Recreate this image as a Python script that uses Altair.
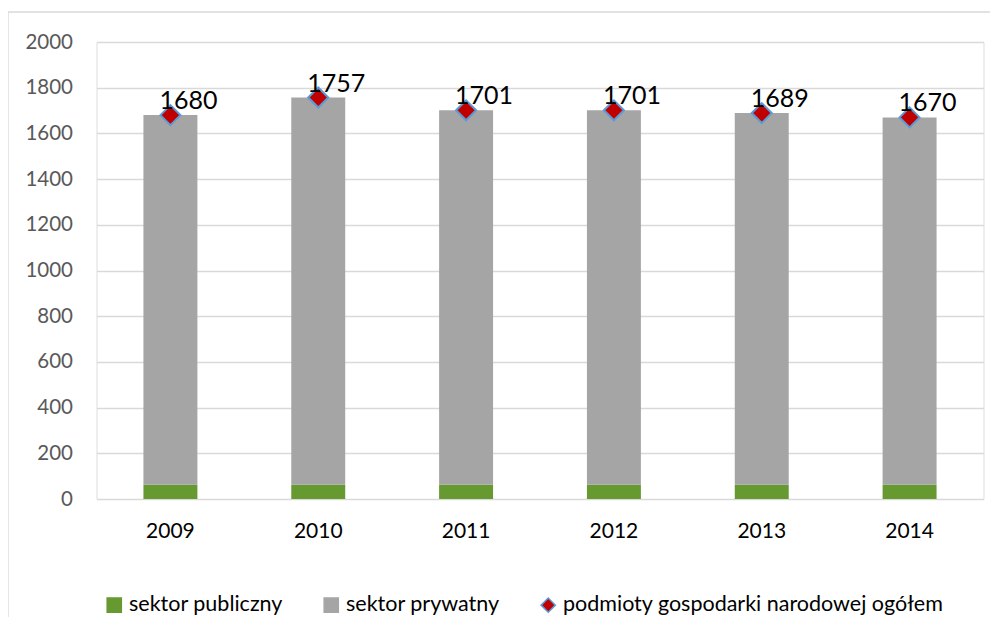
import altair as alt
import pandas as pd

years = ["2009", "2010", "2011", "2012", "2013", "2014"]
totals = [1680, 1757, 1701, 1701, 1689, 1670]
public = [62, 62, 62, 62, 62, 62]
private = [t - p for t, p in zip(totals, public)]

S_PUB = "sektor publiczny"
S_PRIV = "sektor prywatny"
S_TOT = "podmioty gospodarki narodowej ogółem"

rows = []
for y, p, q in zip(years, public, private):
    rows.append({"year": y, "series": S_PUB, "value": p, "order": 0})
    rows.append({"year": y, "series": S_PRIV, "value": q, "order": 1})
bars_df = pd.DataFrame(rows)
tot_df = pd.DataFrame({"year": years, "value": totals, "series": [S_TOT] * len(years)})

domain = [S_PUB, S_PRIV, S_TOT]
color_scale = alt.Scale(domain=domain, range=["#66992F", "#A5A5A5", "#C00000"])
stroke_scale = alt.Scale(domain=domain, range=["#66992F", "#A5A5A5", "#5B9BD5"])
shape_scale = alt.Scale(domain=domain, range=["square", "square", "diamond"])

legend = alt.Legend(
    title=None, orient="none", direction="horizontal", legendX=7, legendY=552,
    labelFont="Lato", labelFontSize=21.5, labelColor="#000000", symbolSize=200,
    symbolStrokeWidth=1.5, columnPadding=37, labelLimit=600, labelOffset=4,
    padding=0, symbolOffset=0,
)

x_enc = alt.X("year:N", sort=years, title=None,
              scale=alt.Scale(paddingInner=0.635, paddingOuter=0.3175),
              axis=alt.Axis(labelAngle=0, ticks=False, domain=False, labelFont="Lato",
                            labelFontSize=21, labelColor="#000000", labelPadding=21))
y_axis = alt.Axis(values=list(range(0, 2001, 200)), ticks=False, domain=False, format="d",
                  labelFont="Lato", labelFontSize=20.5, labelColor="#595959",
                  labelPadding=24, gridColor="#D9D9D9", gridWidth=1.3)

frame = alt.Chart(pd.DataFrame({"a": [0]})).mark_rect(
    fill=None, stroke="#D9D9D9", strokeWidth=1.3
).encode(x=alt.value(-88.5), x2=alt.value(940), y=alt.value(-30), y2=alt.value(620))

bars = alt.Chart(bars_df).mark_bar(strokeWidth=0).encode(
    x=x_enc,
    y=alt.Y("value:Q", stack="zero", title=None,
            scale=alt.Scale(domain=[0, 2000], nice=False), axis=y_axis),
    color=alt.Color("series:N", scale=color_scale, legend=legend),
    stroke=alt.Stroke("series:N", scale=stroke_scale, legend=legend),
    shape=alt.Shape("series:N", scale=shape_scale, legend=legend),
    order=alt.Order("order:Q"),
)

points = alt.Chart(tot_df).mark_point(filled=True, size=400, strokeWidth=2, opacity=1).encode(
    x=alt.X("year:N", sort=years),
    y=alt.Y("value:Q"),
    color=alt.Color("series:N", scale=color_scale, legend=legend),
    stroke=alt.Stroke("series:N", scale=stroke_scale, legend=legend),
    shape=alt.Shape("series:N", scale=shape_scale, legend=legend),
)

labels = alt.Chart(tot_df).mark_text(
    font="Lato", fontSize=25, color="#000000", dy=-6, dx=18, baseline="alphabetic"
).encode(
    x=alt.X("year:N", sort=years),
    y=alt.Y("value:Q"),
    text=alt.Text("value:Q"),
)

chart = alt.layer(frame, bars, points, labels).properties(
    width=887, height=457,
    autosize=alt.AutoSizeParams(type="none"),
    padding={"left": 88.5, "top": 34, "right": 6.5, "bottom": 118},
).configure_view(stroke=None).configure(background="#FFFFFF")

chart.save("out.html", embed_options={"renderer": "svg", "actions": False})
